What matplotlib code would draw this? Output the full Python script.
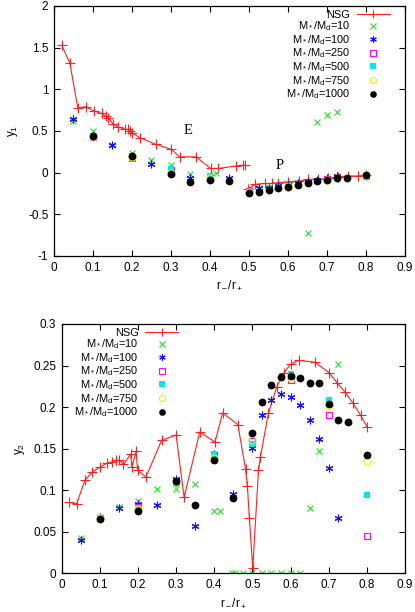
import numpy as np
import matplotlib
matplotlib.use("Agg")
import matplotlib.pyplot as plt
from matplotlib.ticker import FuncFormatter, MultipleLocator

plt.rcParams["font.family"] = ["Liberation Sans", "DejaVu Sans"]
plt.rcParams["mathtext.fontset"] = "custom"
plt.rcParams["mathtext.rm"] = "Liberation Sans"
plt.rcParams["mathtext.it"] = "Liberation Sans:italic"
plt.rcParams["font.size"] = 8.5

# ---- data: top panel (y1) ----
nsg1_r = [0.02, 0.041, 0.061, 0.082, 0.103, 0.122, 0.133, 0.139, 0.152, 0.163,
          0.183, 0.19, 0.196, 0.2, 0.22, 0.261, 0.301, 0.322, 0.364, 0.402,
          0.421, 0.466, 0.485, 0.49, np.nan,
          0.498, 0.515, 0.541, 0.558, 0.575, 0.601, 0.627, 0.652, 0.678, 0.703,
          0.729, 0.755, 0.78, 0.80]
nsg1_y = [1.53, 1.31, 0.78, 0.79, 0.74, 0.71, 0.68, 0.66, 0.58, 0.55,
          0.52, 0.52, 0.50, 0.48, 0.42, 0.34, 0.28, 0.19, 0.19, 0.05,
          0.05, 0.08, 0.09, 0.09, np.nan,
          -0.20, -0.14, -0.13, -0.13, -0.12, -0.11, -0.10, -0.08, -0.08, -0.07,
          -0.05, -0.04, -0.04, -0.03]

m10_r1 = [0.05, 0.1, 0.15, 0.2, 0.25, 0.3, 0.35, 0.4, 0.415, 0.5, 0.525, 0.55,
          0.575, 0.6, 0.625, 0.65, 0.675, 0.7, 0.725]
m10_y1 = [0.62, 0.50, 0.33, 0.24, 0.15, 0.09, -0.02, -0.03, -0.01, -0.21, -0.19,
          -0.17, -0.16, -0.14, -0.12, -0.73, 0.61, 0.69, 0.73]

m100_r = [0.05, 0.1, 0.15, 0.2, 0.25, 0.3, 0.35, 0.4, 0.45, 0.5, 0.525, 0.55,
          0.575, 0.6, 0.625, 0.65, 0.675, 0.7, 0.725]
m100_y1 = [0.64, 0.44, 0.33, 0.19, 0.10, 0.03, -0.07, -0.05, -0.06, -0.22, -0.19,
           -0.18, -0.16, -0.15, -0.13, -0.11, -0.09, -0.07, -0.04]

mid_r = [0.1, 0.2, 0.3, 0.4, 0.5, 0.6, 0.7, 0.8]
m250_y1 = [0.43, 0.18, 0.03, -0.06, -0.22, -0.16, -0.08, -0.04]
m500_y1 = [0.44, 0.20, 0.04, -0.05, -0.23, -0.16, -0.09, -0.05]
m750_y1 = [0.43, 0.19, 0.00, -0.07, -0.23, -0.17, -0.09, -0.03]

m1000_r = [0.1, 0.2, 0.3, 0.35, 0.4, 0.45, 0.5, 0.525, 0.55, 0.575, 0.6, 0.625,
           0.65, 0.675, 0.7, 0.725, 0.75, 0.8]
m1000_y1 = [0.44, 0.20, -0.02, -0.11, -0.09, -0.10, -0.24, -0.23, -0.21, -0.19,
            -0.17, -0.15, -0.13, -0.10, -0.09, -0.07, -0.06, -0.03]

# ---- data: bottom panel (y2) ----
nsg2_r = [0.02, 0.039, 0.061, 0.080, 0.100, 0.120, 0.131, 0.142, 0.151, 0.162,
          0.181, 0.184, 0.195, 0.199, 0.221, 0.262, 0.300, 0.321, 0.362, 0.402,
          0.422, 0.462, 0.482, 0.487, 0.492, 0.501, 0.516, 0.521, 0.542, 0.564,
          0.583, 0.600, 0.621, 0.664, 0.701, 0.722, 0.742, 0.763, 0.784, 0.801]
nsg2_y = [0.0854, 0.0834, 0.112, 0.122, 0.1276, 0.133, 0.1336, 0.136, 0.136, 0.131,
          0.1436, 0.1276, 0.1468, 0.124, 0.116, 0.160, 0.1664, 0.0914, 0.170, 0.158,
          0.193, 0.179, 0.1255, 0.105, 0.067, 0.006, 0.124, 0.140, 0.1925, 0.2246,
          0.2414, 0.2515, 0.2563, 0.254, 0.2414, 0.2294, 0.2185, 0.2053, 0.190, 0.1757]

m10_r2 = [0.05, 0.1, 0.15, 0.2, 0.25, 0.3, 0.35, 0.4, 0.415, 0.447, 0.454, 0.475,
          0.5, 0.525, 0.55, 0.575, 0.6, 0.625, 0.65, 0.675, 0.725]
m10_y2 = [0.0425, 0.068, 0.080, 0.0874, 0.101, 0.102, 0.107, 0.075, 0.075, 0.0, 0.0,
          0.0, 0.0, 0.0, 0.0, 0.0, 0.0, 0.0, 0.078, 0.147, 0.252]

m100_y2 = [0.040, 0.068, 0.079, 0.0834, 0.0826, 0.113, 0.0565, 0.143, 0.0958, 0.151,
           0.190, 0.209, 0.2154, 0.2125, 0.202, 0.1845, 0.162, 0.1263, 0.067]

m250_y2 = [0.067, 0.080, 0.110, 0.142, 0.159, 0.233, 0.191, 0.045]
m500_y2 = [0.067, 0.079, 0.108, 0.143, 0.156, 0.2398, 0.2085, 0.094]
m750_y2 = [0.066, 0.077, 0.108, 0.139, 0.161, 0.235, 0.2013, 0.135]

m1000_y2 = [0.065, 0.0746, 0.1114, 0.0822, 0.136, 0.0906, 0.169, 0.206, 0.226, 0.236,
            0.238, 0.2346, 0.2286, 0.2286, 0.2037, 0.185, 0.1817, 0.142]

ratios = ["10", "100", "250", "500", "750", "1000"]
labels = ["NSG"] + [r"M$_*$/M$_\mathrm{d}$=" + s for s in ratios]

C_NSG = "#ff2020"
C_10 = "#22e022"
C_100 = "#1010ff"
C_250 = "#ff00ff"
C_500 = "#00e8e8"
C_750 = "#f0f000"
C_1000 = "black"
ast = (6, 2, 0)


def fmt(v, pos):
    return "%g" % round(v, 3)


def draw(ax, nsg_r, nsg_y, r10, y10, y100, y250, y500, y750, y1000):
    ax.plot(nsg_r, nsg_y, color=C_NSG, lw=0.8, marker="+", ms=6.5, mew=0.8,
            label=labels[0])
    ax.plot(r10, y10, ls="none", marker="x", ms=4.5, mew=0.8, color=C_10,
            label=labels[1])
    ax.plot(m100_r, y100, ls="none", marker=ast, ms=5.5, mew=0.8, color=C_100,
            label=labels[2])
    ax.plot(mid_r, y250, ls="none", marker="s", ms=4.5, mew=0.8, mfc="none",
            color=C_250, label=labels[3])
    ax.plot(mid_r, y500, ls="none", marker="s", ms=4.8, mew=0, color=C_500,
            label=labels[4])
    ax.plot(mid_r, y750, ls="none", marker="o", ms=5.2, mew=0.8, mfc="none",
            color=C_750, label=labels[5])
    ax.plot(m1000_r, y1000, ls="none", marker="o", ms=5.6, mew=0, color=C_1000,
            label=labels[6])
    ax.set_xlim(0, 0.9)
    ax.xaxis.set_major_locator(MultipleLocator(0.1))
    ax.xaxis.set_major_formatter(FuncFormatter(fmt))
    ax.yaxis.set_major_formatter(FuncFormatter(fmt))
    ax.tick_params(direction="in", top=True, right=True, length=4, width=0.8,
                   pad=4)
    for s in ax.spines.values():
        s.set_linewidth(0.9)
    ax.set_xlabel(r"r$_-$/r$_+$", labelpad=4)


def add_legend(ax, x_right, y_top):
    ax.legend(loc="upper right", bbox_to_anchor=(x_right, y_top), frameon=False,
              markerfirst=False, handlelength=3.0, handletextpad=0.6,
              labelspacing=-0.02, borderpad=0, borderaxespad=0, fontsize=7.9,
              markerscale=0.85)


fig = plt.figure(figsize=(4.15, 6.12), dpi=100)
ax1 = fig.add_axes([0.130, 0.5817, 0.846, 0.4085])
ax2 = fig.add_axes([0.1487, 0.0632, 0.827, 0.4074])

draw(ax1, nsg1_r, nsg1_y, m10_r1, m10_y1, m100_y1, m250_y1, m500_y1, m750_y1,
     m1000_y1)
ax1.set_ylim(-1, 2)
ax1.yaxis.set_major_locator(MultipleLocator(0.5))
ax1.set_ylabel(r"y$_1$", labelpad=6)
ax1.text(0.345, 0.51, "E", family="Liberation Serif", fontsize=10.5,
         ha="center", va="center")
ax1.text(0.578, 0.085, "P", family="Liberation Serif", fontsize=10.5,
         ha="center", va="center")
add_legend(ax1, 0.957, 0.985)

draw(ax2, nsg2_r, nsg2_y, m10_r2, m10_y2, m100_y2, m250_y2, m500_y2, m750_y2,
     m1000_y2)
ax2.set_ylim(0, 0.3)
ax2.yaxis.set_major_locator(MultipleLocator(0.05))
ax2.set_ylabel(r"y$_2$", labelpad=4)
add_legend(ax2, 0.339, 0.985)

fig.savefig("out.png", dpi=100)
